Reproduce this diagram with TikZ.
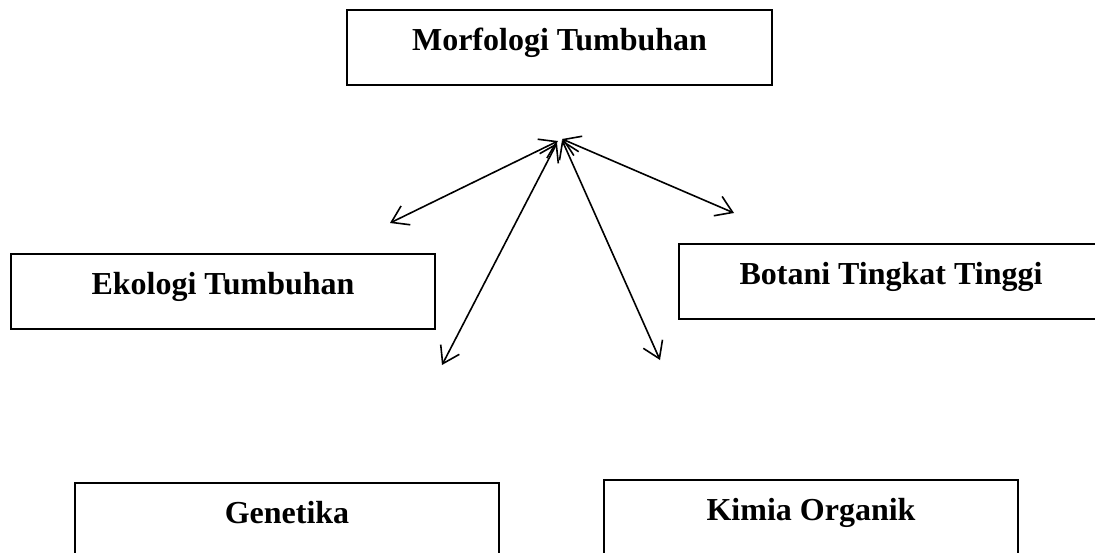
\documentclass[tikz,border=0pt]{standalone}
\usepackage{fontspec}
\setmainfont{Liberation Serif}
\usetikzlibrary{arrows.meta}
\begin{document}
\begin{tikzpicture}[x=1pt,y=-1pt,
  box/.style={draw, line width=1.5pt, inner xsep=0pt, inner ysep=0pt,
    text height=40pt, text depth=35pt, minimum width=424pt, anchor=base,
    font=\fontsize{32}{38}\selectfont\bfseries},
  link/.style={line width=1.6pt,
    {Straight Barb[length=16pt,width=21pt]}-{Straight Barb[length=16pt,width=21pt]}}]
\useasboundingbox (0,0) rectangle (1095,552);
\clip (0,0) rectangle (1095,552);
\node[box, minimum width=425pt] (morf) at (559.5,50) {Morfologi Tumbuhan};
\node[box] (eko) at (223,294) {Ekologi Tumbuhan};
\node[box] (bot) at (891,284) {Botani Tingkat Tinggi};
\node[box] (gen) at (287,523) {Genetika};
\node[box, minimum width=414pt] (kim) at (811,520) {Kimia Organik};
\coordinate (h1) at (558,141);
\coordinate (h2) at (562,139);
\coordinate (h3) at (557,143);
\coordinate (h4) at (562,140);
\coordinate (e1) at (390,223);
\coordinate (e2) at (734,213);
\coordinate (e3) at (442,365);
\coordinate (e4) at (660,360);
\draw[link] (h1) -- (e1);
\draw[link] (h2) -- (e2);
\draw[link] (h3) -- (e3);
\draw[link] (h4) -- (e4);
\end{tikzpicture}
\end{document}
